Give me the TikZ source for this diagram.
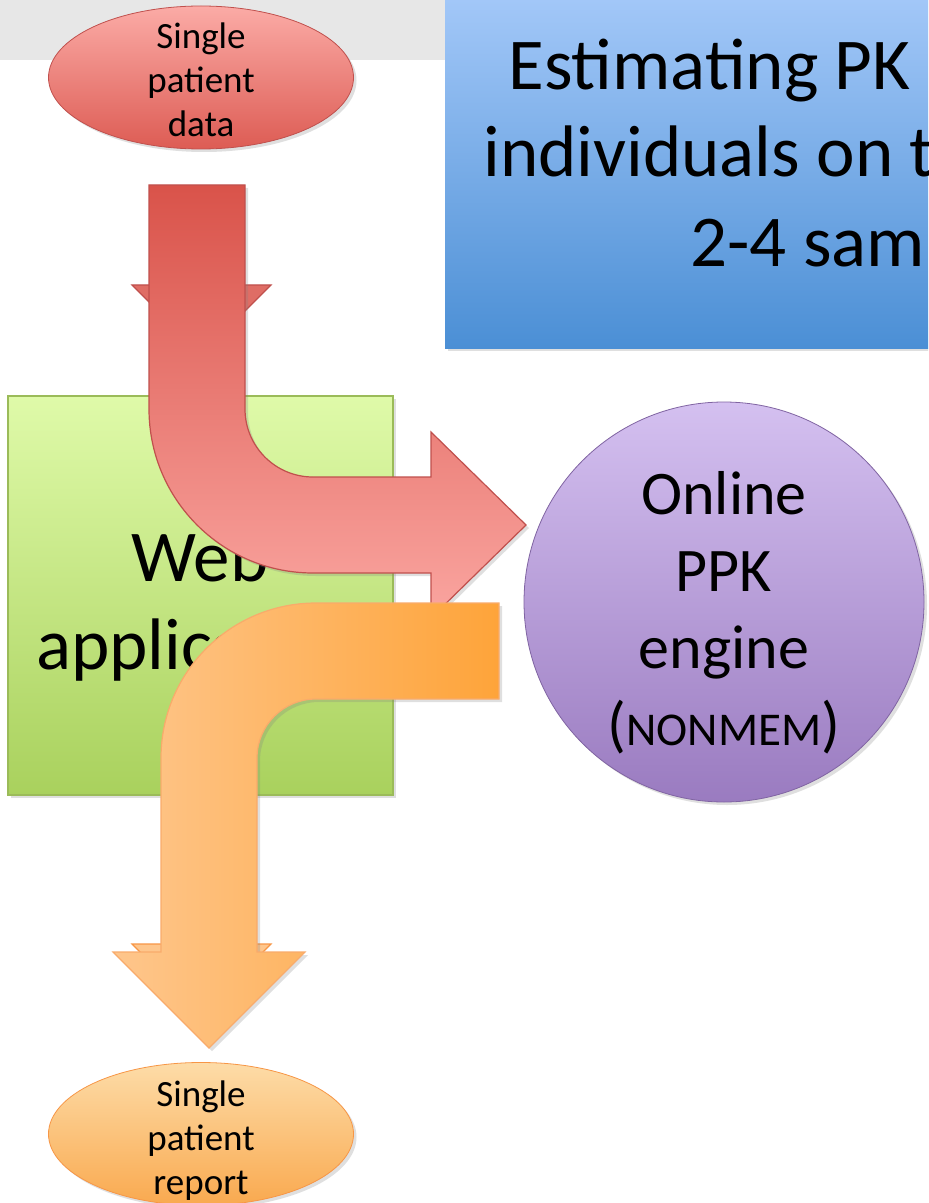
\documentclass[tikz,border=0pt]{standalone}
\usepackage{fontspec}
\setmainfont{Carlito}
\usepackage{xcolor}
\definecolor{bandgray}{HTML}{E7E7E7}
\definecolor{bluetop}{HTML}{A5C9F9}
\definecolor{bluebot}{HTML}{4B8FD5}
\definecolor{greentop}{HTML}{DFFAA9}
\definecolor{greenbot}{HTML}{A9D15D}
\definecolor{greenline}{HTML}{9BBB59}
\definecolor{purptop}{HTML}{D4C0F0}
\definecolor{purpbot}{HTML}{9A7BC0}
\definecolor{purpline}{HTML}{8064A2}
\definecolor{redtop}{HTML}{FBABA6}
\definecolor{redbot}{HTML}{DD5C54}
\definecolor{redline}{HTML}{C0504D}
\definecolor{arrtop}{HTML}{D9534A}
\definecolor{arrbot}{HTML}{FAA5A0}
\definecolor{orleft}{HTML}{FEC68C}
\definecolor{orright}{HTML}{FEA43A}
\definecolor{orline}{HTML}{F79646}
\definecolor{ortop}{HTML}{FDDCA8}
\definecolor{orbot}{HTML}{F9A94F}
\usetikzlibrary{shapes.geometric,shadows}
\tikzset{
  softshadow/.style={drop shadow={opacity=0.25,shadow xshift=1.5pt,shadow yshift=-1.5pt}},
  oval/.style={ellipse,minimum width=152.5pt,minimum height=71.5pt,inner sep=0pt,softshadow},
  ovaltext/.style={align=center,inner sep=0pt,font=\fontsize{18.5}{22}\selectfont},
  panel/.style={rectangle,inner sep=0pt,softshadow},
  bigtext/.style={align=center,inner sep=0pt,font=\fontsize{36.5}{44}\selectfont},
  blockarrow/.style={line width=0.6pt,line join=miter},
}

\begin{document}
\begin{tikzpicture}[x=0.5pt,y=-0.5pt]
\path[use as bounding box,clip] (0,0) rectangle (928,1203);
\fill[white] (0,0) rectangle (928,1203);
\fill[bandgray] (0,0) rectangle (928,60);
% title panel, runs off the page
\node[panel,minimum width=500pt,minimum height=180pt,top color=bluetop,bottom color=bluebot] (title) at (945,168) {};
\node[bigtext,anchor=base west] (t1) at (508,90) {Estimating PK};
\node[bigtext,anchor=base west] (t2) at (483,177) {individuals on t};
\node[bigtext,anchor=base west] (t3) at (690,267) {2-4 sam};
% inputs and components
\node[oval,top color=redtop,bottom color=redbot,draw=redline] (data) at (201,77.5) {};
\node[ovaltext] (datatxt) at (201,80) {Single\\patient\\data};
\node[panel,minimum width=192.5pt,minimum height=199.5pt,top color=greentop,bottom color=greenbot,
  draw=greenline,line width=0.8pt] (web) at (200.5,595.5) {};
\node[bigtext] (webtxt) at (200,606) {Web\\application};
\node[circle,minimum size=200pt,inner sep=0pt,top color=purptop,bottom color=purpbot,draw=purpline,
  softshadow] (ppk) at (724,602) {};
\node[align=center,inner sep=0pt,font=\fontsize{31}{38.5}\selectfont] (ppktxt) at (724,613)
  {Online\\PPK\\engine\\({\fontsize{23.5}{38.5}\selectfont NONMEM})};
% data in: bent arrow down and right
\fill[arrtop!85!white,draw=redline,blockarrow] (132,285) -- (271,285) -- (201.5,354.5) -- cycle;
\path[top color=arrtop,bottom color=arrbot,draw=redline,blockarrow,softshadow]
  (149,185) -- (245,185) -- (245,409) arc[start angle=180,end angle=90,radius=68]
  -- (431,477) -- (431,432) -- (526,525) -- (431,618) -- (431,573) -- (313,573)
  arc[start angle=90,end angle=180,radius=164] -- cycle;
% report out: bent arrow left and down
\fill[orleft,draw=orline,blockarrow] (132,944) -- (271,944) -- (201.5,1013.5) -- cycle;
\path[left color=orleft,right color=orright,draw=orline!80,blockarrow,softshadow]
  (499,603) -- (316,603) arc[start angle=270,end angle=180,radius=155]
  -- (161,952) -- (113,952) -- (209,1048) -- (305,952) -- (257,952) -- (257,758)
  arc[start angle=180,end angle=270,radius=59] -- (499,699) -- cycle;
\node[oval,top color=ortop,bottom color=orbot,draw=orline] (report) at (201,1134) {};
\node[ovaltext] (reporttxt) at (201,1141) {Single\\patient\\report};
\end{tikzpicture}
\end{document}
